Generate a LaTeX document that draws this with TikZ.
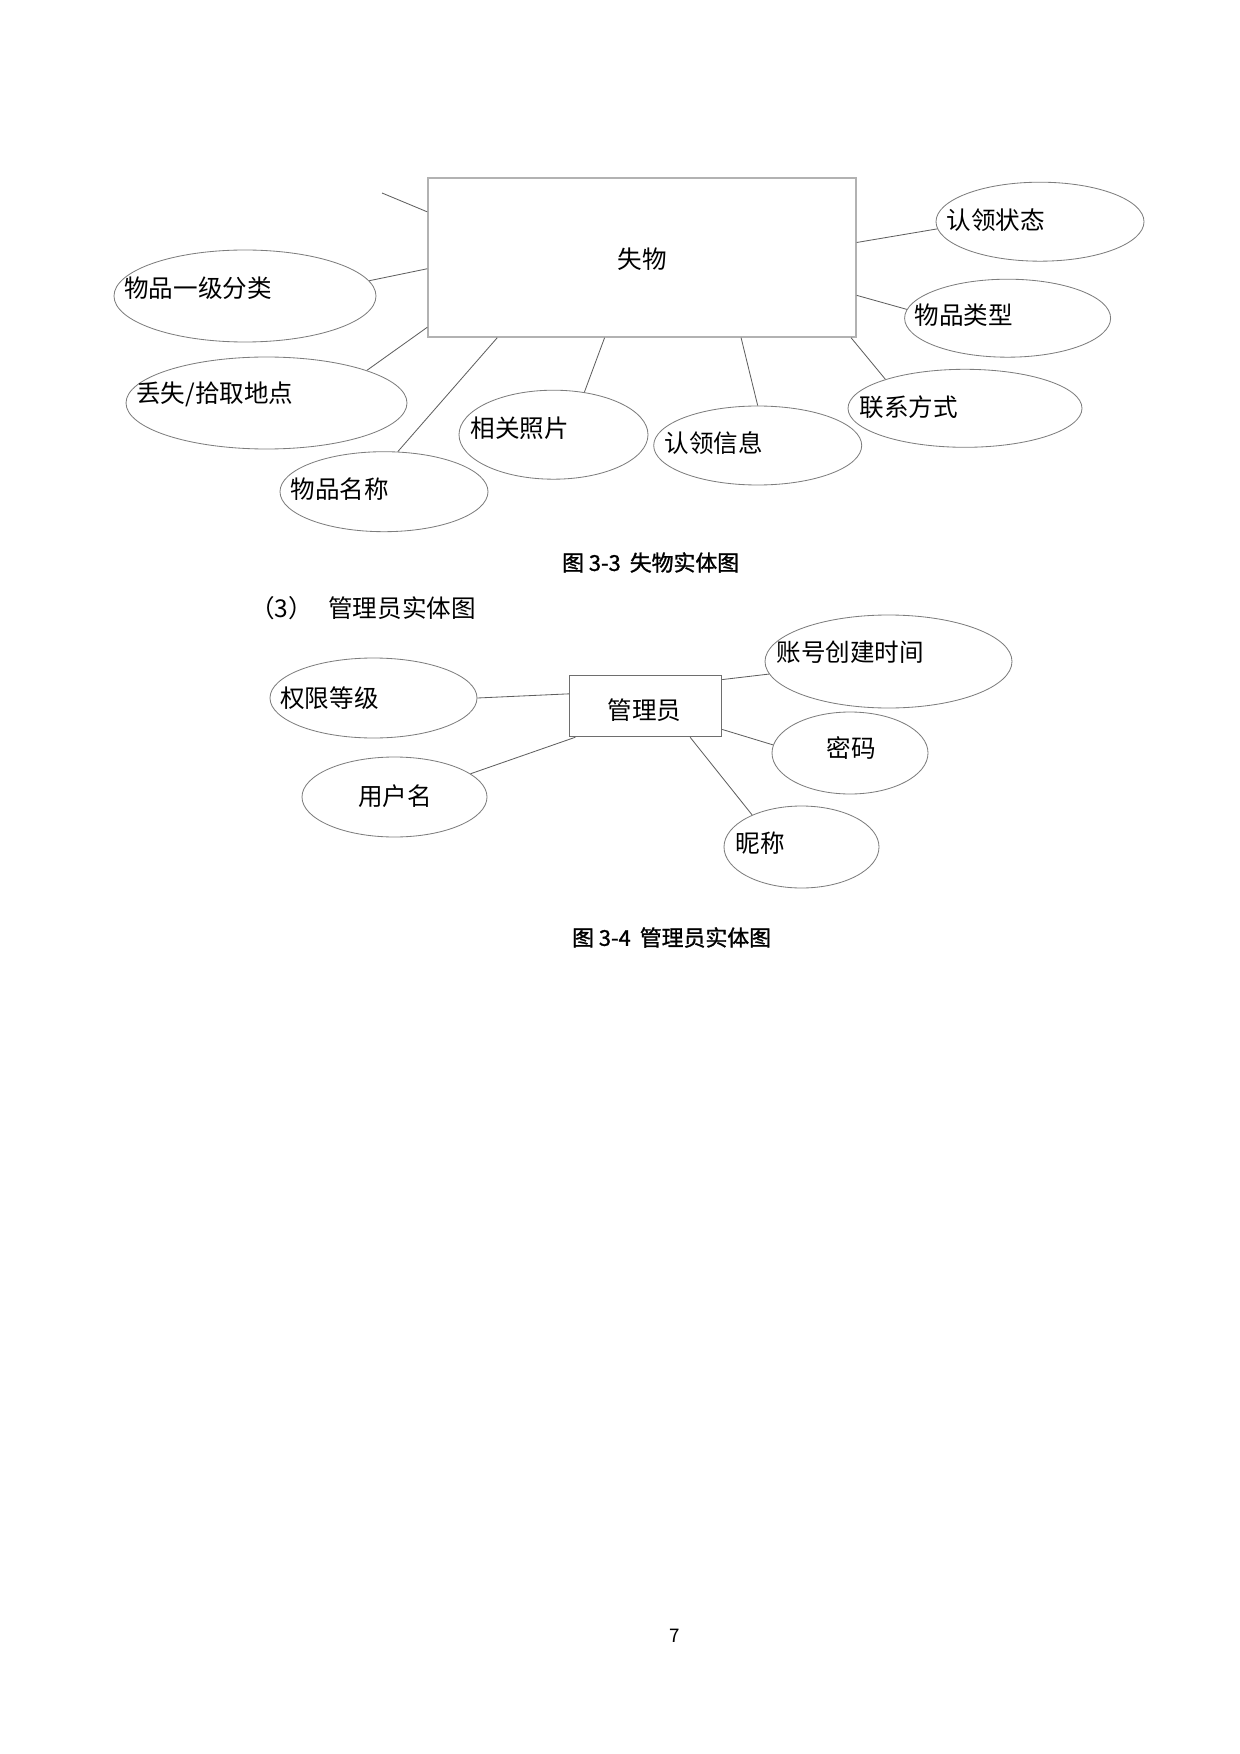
\documentclass[tikz,border=0pt]{standalone}
\usepackage{fontspec}
\usepackage{tikz}
\setmainfont{Noto Sans CJK SC}
\newfontfamily\capfamily[FakeBold=1.2]{Noto Sans CJK SC}
\definecolor{linkgray}{RGB}{95, 95, 95}
\definecolor{ellgray}{RGB}{125, 125, 125}
\definecolor{boxlight}{RGB}{178, 178, 178}
\definecolor{boxdark}{RGB}{110, 110, 110}
\newcommand{\pxunit}{0.4801pt}
\newcommand{\attrfont}{\fontsize{11.8pt}{14pt}\selectfont}
\newcommand{\capfont}{\fontsize{10.5pt}{12pt}\selectfont\capfamily}
\usetikzlibrary{shapes.geometric, calc}

\begin{document}
\begin{tikzpicture}[
    x=0.4801pt, y=-0.4801pt,
    entity/.style={rectangle, inner sep=0pt},
    attr/.style 2 args={ellipse, draw=ellgray, line width=0.4pt, minimum width=#1*\pxunit, minimum height=#2*\pxunit, inner sep=0pt},
    attrtext/.style={anchor=west, inner sep=0pt, font=\attrfont},
    figcap/.style={anchor=west, inner sep=0pt, font=\capfont},
    link/.style={draw=linkgray, line width=0.4pt}
]
    % Page
    \path[use as bounding box] (0, 0) rectangle (1240, 1754);

    % Lost item entity
    \node[entity, draw=boxlight, line width=0.7pt, minimum width=428*\pxunit, minimum height=159*\pxunit] (shiwu) at (642, 257.5) {};
    \node[attrtext, anchor=center] (shiwu-t) at (642, 259) {失物};

    % Attributes, left side
    \coordinate (cut) at (382, 193);
    \node[attr={262}{92}] (yjfl) at (245, 296) {};
    \node[attrtext] (yjfl-t) at (124, 288) {物品一级分类};
    \node[attr={281}{92}] (ddian) at (266.5, 403) {};
    \node[attrtext] (ddian-t) at (136, 394) {丢失/拾取地点};
    \node[attr={208}{80}] (mcheng) at (384, 491.7) {};
    \node[attrtext] (mcheng-t) at (290, 489) {物品名称};

    % Attributes, below
    \node[attr={189}{89}] (zpian) at (553.5, 434.7) {};
    \node[attrtext] (zpian-t) at (470, 428) {相关照片};
    \node[attr={208}{79}] (xxi) at (757.7, 445.5) {};
    \node[attrtext] (xxi-t) at (664, 443) {认领信息};

    % Attributes, right side
    \node[attr={234}{78}] (fshi) at (965, 408.3) {};
    \node[attrtext] (fshi-t) at (859, 406.7) {联系方式};
    \node[attr={206}{78}] (lxing) at (1007.6, 318.2) {};
    \node[attrtext] (lxing-t) at (914, 315) {物品类型};
    \node[attr={208}{79}] (zt) at (1040, 221.7) {};
    \node[attrtext] (zt-t) at (946, 220) {认领状态};

    % Links
    \draw[link] (shiwu.168.3) -- (cut);
    \draw[link] (shiwu.183.9) -- (yjfl.7.9);
    \draw[link] (shiwu.198.9) -- (ddian.18.5);
    \draw[link] (shiwu.209.6) -- (mcheng.71);
    \draw[link] (shiwu.245) -- (zpian.54.8);
    \draw[link] (shiwu.321.8) -- (xxi.90);
    \draw[link] (shiwu.339.1) -- (fshi.160.9);
    \draw[link] (shiwu.350.3) -- (lxing.175.4);
    \draw[link] (shiwu.4.4) -- (zt.184.2);

    \node[figcap] (cap33) at (561.7, 562.5) {图 3-3\hspace{2pt} 失物实体图};

    % Heading
    \node[attrtext] (sec3) at (250, 608.5) {\makebox[37.4pt][l]{（3）}管理员实体图};

    % Admin entity
    \node[entity, draw=boxdark, line width=0.5pt, minimum width=152.4*\pxunit, minimum height=61.4*\pxunit] (gly) at (645.5, 706) {};
    \node[attrtext, anchor=center] (gly-t) at (644.5, 710.5) {管理员};

    \node[attr={207}{80}] (qxian) at (373.5, 698) {};
    \node[attrtext] (qxian-t) at (280, 698.5) {权限等级};
    \node[attr={185}{80}] (yhm) at (394.5, 797) {};
    \node[attrtext, anchor=center] (yhm-t) at (395, 796) {用户名};
    \node[attr={247}{93}] (sjian) at (888.5, 661.5) {};
    \node[attrtext] (sjian-t) at (776, 652) {账号创建时间};
    \node[attr={156}{82}] (mima) at (850, 753) {};
    \node[attrtext, anchor=center] (mima-t) at (851, 748) {密码};
    \node[attr={155}{82}] (nch) at (801.5, 847) {};
    \node[attrtext] (nch-t) at (735, 843) {昵称};

    \draw[link] (gly.171.8) -- (qxian.0);
    \draw[link] (gly.204.1) -- (yhm.17.4);
    \draw[link] (gly.19.7) -- (sjian.186);
    \draw[link] (gly.343.9) -- (mima.174.7);
    \draw[link] (gly.325.4) -- (nch.147.9);

    \node[figcap] (cap34) at (571.7, 937.5) {图 3-4\hspace{2pt} 管理员实体图};

    % Page number
    \node[inner sep=0pt, font=\fontsize{9pt}{10pt}\selectfont] (pageno) at (675, 1636) {7};

\end{tikzpicture}
\end{document}
